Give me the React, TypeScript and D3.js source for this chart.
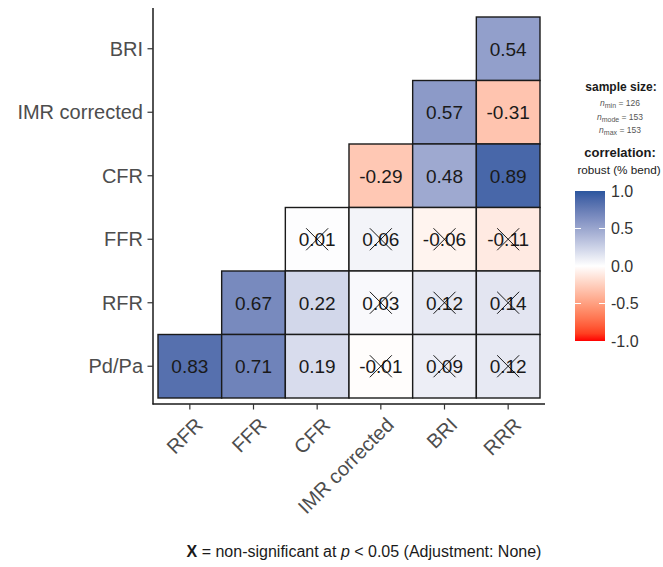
import React from "react";
import * as d3 from "d3";

// categories
const xVars = ["RFR", "FFR", "CFR", "IMR corrected", "BRI", "RRR"];
const yVars = ["BRI", "IMR corrected", "CFR", "FFR", "RFR", "Pd/Pa"];

// correlations per row (lower triangle, right-aligned to RRR)
const corBRI = [0.54];
const corIMR = [0.57, -0.31];
const corCFR = [-0.29, 0.48, 0.89];
const corFFR = [0.01, 0.06, -0.06, -0.11];
const corRFR = [0.67, 0.22, 0.03, 0.12, 0.14];
const corPdPa = [0.83, 0.71, 0.19, -0.01, 0.09, 0.12];

// significance per row (false = crossed out)
const sigBRI = [true];
const sigIMR = [true, true];
const sigCFR = [true, true, true];
const sigFFR = [false, false, false, false];
const sigRFR = [true, true, false, false, false];
const sigPdPa = [true, true, true, false, false, false];

const rows = [corBRI, corIMR, corCFR, corFFR, corRFR, corPdPa];
const sigs = [sigBRI, sigIMR, sigCFR, sigFFR, sigRFR, sigPdPa];

const legendTicks = [1.0, 0.5, 0.0, -0.5, -1.0];
const sampleSizes = [
  { label: "min", n: 126 },
  { label: "mode", n: 153 },
  { label: "max", n: 153 },
];

const W = 663;
const H = 567;
const font = "'Liberation Sans', Arial, sans-serif";

export default function App() {
  const x = d3.scaleBand<string>().domain(xVars).range([158, 540]);
  const y = d3.scaleBand<string>().domain(yVars).range([17, 398]);
  const color = d3
    .scaleLinear<string>()
    .domain([-1, 0, 1])
    .range(["#ff0000", "#ffffff", "#2b569e"])
    .interpolate(d3.interpolateLab);
  const legY = d3.scaleLinear().domain([-1, 1]).range([341, 191]);

  const cells: { xv: string; yv: string; r: number; sig: boolean }[] = [];
  rows.forEach((vals, i) => {
    const offset = xVars.length - vals.length;
    vals.forEach((r, j) => {
      cells.push({ xv: xVars[offset + j], yv: yVars[i], r, sig: sigs[i][j] });
    });
  });

  const bw = x.bandwidth();
  const bh = y.bandwidth();
  const stops = d3.range(0, 1.0001, 0.05);

  return (
    <svg
      width={W}
      height={H}
      style={{ position: "absolute", left: 0, top: 0, background: "#fff" }}
      fontFamily={font}
    >
      <defs>
        <linearGradient id="cbar" x1="0" y1="1" x2="0" y2="0">
          {stops.map((t) => (
            <stop key={t} offset={t} stopColor={color(t * 2 - 1)} />
          ))}
        </linearGradient>
      </defs>

      {/* tiles */}
      {cells.map((c, i) => (
        <rect
          key={i}
          x={x(c.xv)}
          y={y(c.yv)}
          width={bw}
          height={bh}
          fill={color(c.r)}
          stroke="#1a1a1a"
          strokeWidth={1.4}
        />
      ))}
      {cells.map((c, i) => {
        const cx = (x(c.xv) ?? 0) + bw / 2;
        const cy = (y(c.yv) ?? 0) + bh / 2;
        return (
          <g key={"t" + i}>
            <text
              x={cx}
              y={cy}
              dy="0.36em"
              textAnchor="middle"
              fontSize={19}
              fill="#1a1a1a"
            >
              {c.r.toFixed(2)}
            </text>
            {!c.sig && (
              <g stroke="#000" strokeWidth={0.9}>
                <line x1={cx - 11} y1={cy - 11} x2={cx + 11} y2={cy + 11} />
                <line x1={cx - 11} y1={cy + 11} x2={cx + 11} y2={cy - 11} />
              </g>
            )}
          </g>
        );
      })}

      {/* axes */}
      <line x1={153} y1={8} x2={153} y2={404.5} stroke="#1a1a1a" strokeWidth={1.5} />
      <line x1={152.5} y1={404} x2={545} y2={404} stroke="#1a1a1a" strokeWidth={1.5} />
      {yVars.map((v) => {
        const cy = (y(v) ?? 0) + bh / 2;
        return (
          <g key={v}>
            <line x1={147.5} y1={cy} x2={153} y2={cy} stroke="#333" strokeWidth={1.2} />
            <text x={143} y={cy} dy="0.36em" textAnchor="end" fontSize={20} fill="#4d4d4d">
              {v}
            </text>
          </g>
        );
      })}
      {xVars.map((v) => {
        const cx = (x(v) ?? 0) + bw / 2;
        return (
          <g key={v}>
            <line x1={cx} y1={404} x2={cx} y2={409.5} stroke="#333" strokeWidth={1.2} />
            <text
              transform={`translate(${cx + 4},${416}) rotate(-45)`}
              dy="0.72em"
              textAnchor="end"
              fontSize={20}
              fill="#4d4d4d"
            >
              {v}
            </text>
          </g>
        );
      })}

      {/* legend */}
      <text x={621} y={91} textAnchor="middle" fontSize={12} fontWeight="bold" fill="#1a1a1a">
        sample size:
      </text>
      {sampleSizes.map((s, i) => (
        <text
          key={s.label}
          x={620}
          y={106 + i * 13.5}
          textAnchor="middle"
          fontSize={8.5}
          fill="#555"
        >
          <tspan fontStyle="italic">n</tspan>
          <tspan fontSize={7} dy={2}>
            {s.label}
          </tspan>
          <tspan dy={-2}>{` = ${s.n}`}</tspan>
        </text>
      ))}
      <text x={620} y={157} textAnchor="middle" fontSize={13} fontWeight="bold" fill="#1a1a1a">
        correlation:
      </text>
      <text x={619} y={174} textAnchor="middle" fontSize={11.7} fill="#1a1a1a">
        robust (% bend)
      </text>
      <rect x={575} y={legY(1)} width={30} height={legY(-1) - legY(1)} fill="url(#cbar)" />
      {legendTicks.map((t) => (
        <g key={t}>
          {t !== 1 && t !== -1 && (
            <g stroke="#fff" strokeWidth={1}>
              <line x1={575} y1={legY(t)} x2={581} y2={legY(t)} />
              <line x1={599} y1={legY(t)} x2={605} y2={legY(t)} />
            </g>
          )}
          <text x={611} y={legY(t)} dy="0.36em" fontSize={16} fill="#333">
            {t.toFixed(1)}
          </text>
        </g>
      ))}

      {/* caption */}
      <text x={364} y={557} textAnchor="middle" fontSize={16} fill="#1a1a1a">
        <tspan fontWeight="bold">X</tspan>
        <tspan> = non-significant at </tspan>
        <tspan fontStyle="italic">p</tspan>
        <tspan> &lt; 0.05 (Adjustment: None)</tspan>
      </text>
    </svg>
  );
}
